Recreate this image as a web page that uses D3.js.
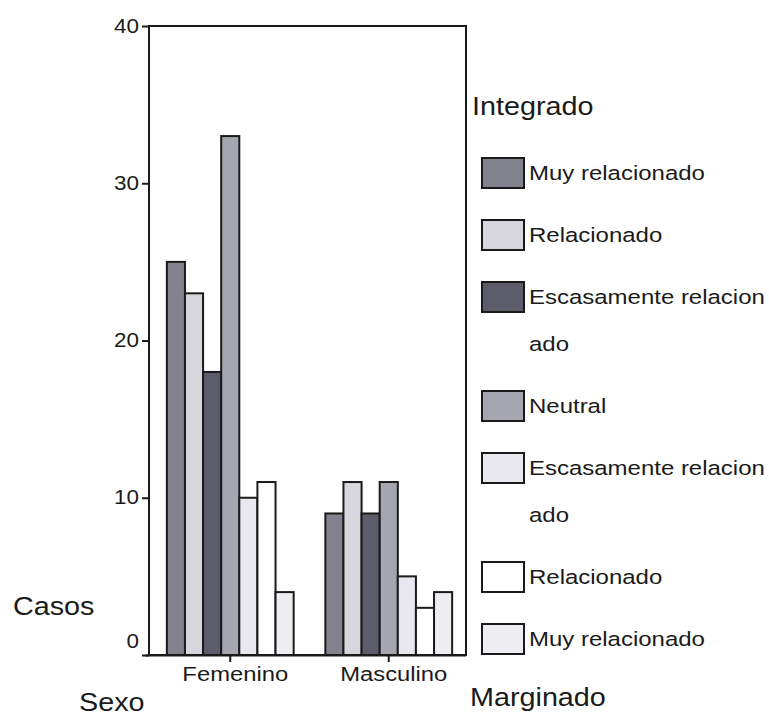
<!DOCTYPE html>
<html><head><meta charset="utf-8">
<script src="https://cdn.jsdelivr.net/npm/d3@7"></script>
<style>
body{margin:0;background:#fff;}
text{font-family:"Liberation Sans",Arial,Helvetica,sans-serif;fill:#1a1a1a;}
</style></head>
<body>
<svg id="chart" width="769" height="718"></svg>
<script>
const categories = ["Femenino", "Masculino"];
const seriesNames = ["Muy relacionado", "Relacionado", "Escasamente relacionado", "Neutral",
                     "Escasamente relacionado", "Relacionado", "Muy relacionado"];
const femeninoValues = [25, 23, 18, 33, 10, 11, 4];
const masculinoValues = [9, 11, 9, 11, 5, 3, 4];
const yTicks = [0, 10, 20, 30, 40];
const seriesColors = ["#82828e", "#d6d6dc", "#5c5c6a", "#a6a6b0", "#e8e8ee", "#ffffff", "#eeeef2"];
const yTitle = "Casos", xTitle = "Sexo", legendTop = "Integrado", legendBottom = "Marginado";

(function () {
const values = [femeninoValues, masculinoValues];
const svg = d3.select("#chart");
const SX = 1.17;
const frame = {left: 149, right: 466, top: 26, bottom: 655};

const y = d3.scaleLinear().domain([0, 40]).range([frame.bottom, frame.top]);
const x0 = d3.scaleBand().domain(categories).range([151, 468]).paddingInner(0.2).paddingOuter(0.1);
const x1 = d3.scaleBand().domain(d3.range(seriesNames.length)).range([0, x0.bandwidth()]);

svg.append("rect").attr("x", frame.left).attr("y", frame.top)
  .attr("width", frame.right - frame.left).attr("height", frame.bottom - frame.top)
  .attr("fill", "none").attr("stroke", "#1a1a1a").attr("stroke-width", 2);

const groups = svg.append("g").selectAll("g").data(categories).join("g")
  .attr("transform", c => `translate(${x0(c)},0)`);
groups.selectAll("rect").data((c, i) => values[i].map((v, j) => ({v, j})))
  .join("rect")
  .attr("x", d => x1(d.j)).attr("width", x1.bandwidth())
  .attr("y", d => y(d.v)).attr("height", d => y(0) - y(d.v))
  .attr("fill", d => seriesColors[d.j]).attr("stroke", "#1a1a1a").attr("stroke-width", 2);

const ya = svg.append("g").attr("transform", `translate(${frame.left},0)`)
  .call(d3.axisLeft(y).tickValues(yTicks).tickSize(7).tickPadding(4).tickFormat(d3.format("d")));
ya.select(".domain").remove();
ya.selectAll("line").attr("stroke", "#1a1a1a").attr("stroke-width", 2);
ya.selectAll("text").attr("font-size", 19.5).attr("transform", `scale(1.15,1)`)
  .attr("x", -10 / 1.15).style("font-family", "Liberation Sans, Arial, sans-serif").attr("fill", "#1a1a1a");
ya.selectAll(".tick").filter(d => d === 0).select("text").attr("dy", "-0.4em");

const xa = svg.append("g").attr("transform", `translate(0,${frame.bottom})`)
  .call(d3.axisBottom(x0).tickSize(7).tickPadding(5));
xa.select(".domain").attr("d", `M${frame.left - 4},0.5H${frame.right}`).attr("stroke", "#1a1a1a").attr("stroke-width", 2);
xa.selectAll("line").attr("stroke", "#1a1a1a").attr("stroke-width", 2);
xa.selectAll("text").attr("font-size", 20).attr("transform", `scale(1.19,1)`)
  .attr("x", 5 / 1.19).style("font-family", "Liberation Sans, Arial, sans-serif").attr("fill", "#1a1a1a");

function stretchedText(txt, xx, yy, size) {
  return svg.append("text").attr("transform", `translate(${xx},${yy}) scale(1.15,1)`)
    .attr("font-size", size).text(txt);
}
stretchedText(yTitle, 13, 615, 25);
stretchedText(xTitle, 79, 711, 25);
stretchedText(legendTop, 472, 115, 25);
stretchedText(legendBottom, 470, 706, 25);

function wrap(s, n) { const out = []; for (let i = 0; i < s.length; i += n) out.push(s.slice(i, i + n)); return out; }
let legendY = 158;
seriesNames.forEach((name, i) => {
  const lines = wrap(name, 20);
  const g = svg.append("g").attr("transform", `translate(482,${legendY})`);
  g.append("rect").attr("x", 0).attr("y", 0).attr("width", 42).attr("height", 30)
    .attr("fill", seriesColors[i]).attr("stroke", "#1a1a1a").attr("stroke-width", 2);
  lines.forEach((ln, k) => {
    g.append("text").attr("transform", `translate(47,${15 + k * 47}) scale(${SX},1)`)
      .attr("font-size", 20.5).attr("dominant-baseline", "central").text(ln);
  });
  legendY += 62 + 47 * (lines.length - 1);
});
})();
</script>
</body></html>
